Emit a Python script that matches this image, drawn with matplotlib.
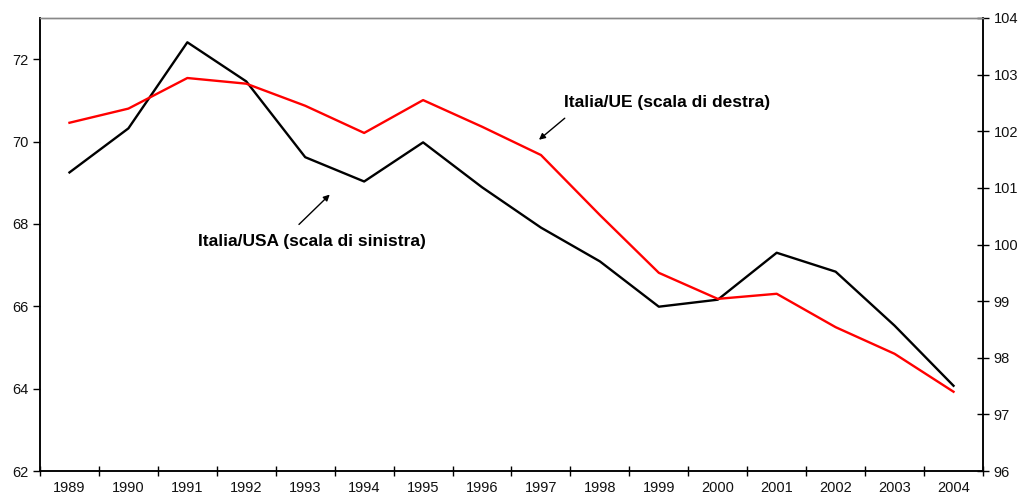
import matplotlib.pyplot as plt
from matplotlib.ticker import FixedLocator

plt.rcParams['font.family'] = ['Liberation Sans', 'DejaVu Sans']

years = ['1989', '1990', '1991', '1992', '1993', '1994', '1995', '1996',
         '1997', '1998', '1999', '2000', '2001', '2002', '2003', '2004']
italia_usa = [69.25, 70.32, 72.41, 71.46, 69.62, 69.03, 69.98, 68.89,
              67.91, 67.09, 65.99, 66.16, 67.30, 66.84, 65.53, 64.07]
italia_ue = [102.15, 102.40, 102.94, 102.84, 102.45, 101.97, 102.55, 102.08,
             101.58, 100.52, 99.50, 99.04, 99.13, 98.54, 98.07, 97.40]

fig = plt.figure(figsize=(10.18, 4.93), dpi=100)
ax = fig.add_axes([0.0393, 0.0446, 0.9263, 0.9189])
ax2 = ax.twinx()

x = range(len(years))
ax.plot(x, italia_usa, color='black', lw=1.7)
ax2.plot(x, italia_ue, color='#ff0000', lw=1.7)

ax.set_xlim(-0.5, len(years) - 0.5)
ax.set_ylim(62, 73)
ax2.set_ylim(96, 104)

ax.set_yticks(range(62, 73, 2))
ax2.set_yticks(range(96, 105, 1))
ax.set_xticks(list(x))
ax.set_xticklabels(years)
ax.xaxis.set_minor_locator(FixedLocator([i + 0.5 for i in range(-1, len(years))]))

ax.tick_params(axis='x', which='major', length=0, labelsize=10.5, pad=7, labelcolor='#111111')
ax.tick_params(axis='x', which='minor', direction='inout', length=7, width=1)
ax.tick_params(axis='y', direction='out', length=5, width=1, labelsize=10.5, labelcolor='#111111')
ax2.tick_params(axis='y', direction='inout', length=8, width=1, labelsize=10.5, labelcolor='#111111')

for a in (ax, ax2):
    for s in ['left', 'bottom', 'right']:
        a.spines[s].set_color('black')
        a.spines[s].set_linewidth(1.1)
    a.spines['top'].set_color('#888888')
    a.spines['top'].set_linewidth(1)

ax.annotate('', xy=(4.45, 68.76), xytext=(3.86, 67.94),
            arrowprops=dict(arrowstyle='-|>', color='black', lw=1, mutation_scale=9))
ax.text(4.12, 67.57, 'Italia/USA (scala di sinistra)', ha='center', va='center',
        fontsize=12.5, fontweight='bold')
ax.annotate('', xy=(7.93, 70.0), xytext=(8.44, 70.61),
            arrowprops=dict(arrowstyle='-|>', color='black', lw=1, mutation_scale=9))
ax.text(10.14, 70.95, 'Italia/UE (scala di destra)', ha='center', va='center',
        fontsize=12.5, fontweight='bold')

fig.savefig('out.png', dpi=100)
